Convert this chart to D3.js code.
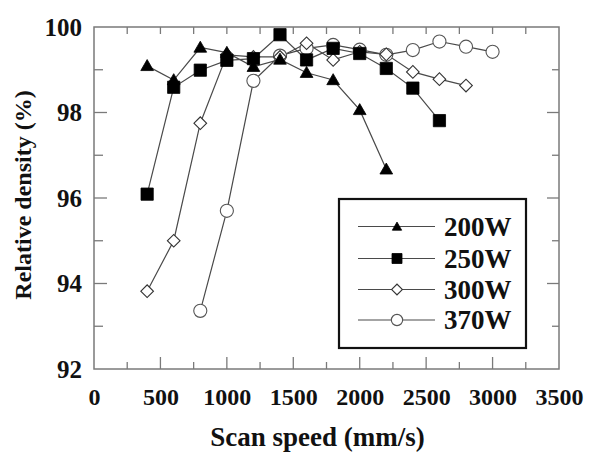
<!DOCTYPE html>
<html>
<head>
<meta charset="utf-8">
<script src="https://cdn.jsdelivr.net/npm/d3@7/dist/d3.min.js"></script>
<style>
  html, body { margin: 0; padding: 0; background: #fff; }
</style>
</head>
<body>
<svg id="chart" width="589" height="452"></svg>
<script>
// ---- data ----
const seriesNames = ["200W", "250W", "300W", "370W"];
const speeds200 = [400, 600, 800, 1000, 1200, 1400, 1600, 1800, 2000, 2200];
const density200 = [99.09, 98.76, 99.52, 99.40, 99.07, 99.24, 98.93, 98.76, 98.06, 96.67];
const speeds250 = [400, 600, 800, 1000, 1200, 1400, 1600, 1800, 2000, 2200, 2400, 2600];
const density250 = [96.09, 98.59, 98.99, 99.22, 99.26, 99.82, 99.23, 99.50, 99.38, 99.03, 98.57, 97.81];
const speeds300 = [400, 600, 800, 1000, 1200, 1400, 1600, 1800, 2000, 2200, 2400, 2600, 2800];
const density300 = [93.82, 95.00, 97.75, 99.35, 99.30, 99.30, 99.62, 99.23, 99.42, 99.36, 98.95, 98.78, 98.63];
const speeds370 = [800, 1000, 1200, 1400, 1600, 1800, 2000, 2200, 2400, 2600, 2800, 3000];
const density370 = [93.36, 95.70, 98.74, 99.33, 99.50, 99.58, 99.47, 99.35, 99.46, 99.66, 99.54, 99.42];
const xTicks = [0, 500, 1000, 1500, 2000, 2500, 3000, 3500];
const yTicks = [92, 94, 96, 98, 100];

// ---- layout ----
const FONT = "'Liberation Serif', 'Times New Roman', Tinos, Times, 'DejaVu Serif', serif";
const svg = d3.select("#chart");
const L = 94, R = 559, T = 27, B = 369;
const x = d3.scaleLinear().domain([0, 3500]).range([L, R]);
const y = d3.scaleLinear().domain([92, 100]).range([B, T]);

const series = [
  { name: seriesNames[0], xs: speeds200, ys: density200, type: "triangle" },
  { name: seriesNames[1], xs: speeds250, ys: density250, type: "square" },
  { name: seriesNames[2], xs: speeds300, ys: density300, type: "diamond" },
  { name: seriesNames[3], xs: speeds370, ys: density370, type: "circle" }
];

function markerPath(type, big) {
  if (type === "triangle") return d3.symbol(d3.symbolTriangle, big ? 70 : 38)();
  if (type === "square") return d3.symbol(d3.symbolSquare, big ? 150 : 100)();
  if (type === "diamond") return d3.symbol(d3.symbolSquare, big ? 80 : 58)();
  return d3.symbol(d3.symbolCircle, big ? 135 : 100)();
}
function markerStyle(sel, type) {
  if (type === "triangle" || type === "square") {
    sel.attr("fill", "#000").attr("stroke", "#000").attr("stroke-width", 0.8);
  } else if (type === "diamond") {
    sel.attr("fill", "#fff").attr("stroke", "#333").attr("stroke-width", 1.1);
  } else {
    sel.attr("fill", "#fff").attr("stroke", "#555").attr("stroke-width", 1.1);
  }
}
function markerTransform(type, px, py) {
  if (type === "diamond") return `translate(${px},${py}) rotate(45)`;
  if (type === "triangle") return `translate(${px},${py + 1})`;
  return `translate(${px},${py})`;
}
function txt(sel, size) {
  return sel.attr("font-family", FONT).style("font-family", FONT)
    .attr("font-weight", "bold").style("font-weight", "bold")
    .attr("font-size", size).style("font-size", size + "px").attr("fill", "#111");
}

// ---- frame and ticks ----
const frameColor = "#7a7a7a";
svg.append("rect").attr("x", L).attr("y", T).attr("width", R - L).attr("height", B - T)
  .attr("fill", "none").attr("stroke", frameColor).attr("stroke-width", 1.5);

const tickG = svg.append("g").attr("stroke", frameColor).attr("stroke-width", 1.3);
const xMinor = d3.range(250, 3500, 250);
xMinor.forEach(v => {
  const major = v % 500 === 0;
  tickG.append("line").attr("x1", x(v)).attr("x2", x(v)).attr("y1", B).attr("y2", B - (major ? 12 : 7));
  tickG.append("line").attr("x1", x(v)).attr("x2", x(v)).attr("y1", T).attr("y2", T + 7);
});
const yMinor = d3.range(93, 100, 1);
yMinor.forEach(v => {
  const major = v % 2 === 0;
  tickG.append("line").attr("x1", L).attr("x2", L + (major ? 13 : 9)).attr("y1", y(v)).attr("y2", y(v));
  tickG.append("line").attr("x1", R).attr("x2", R - (major ? 12 : 7)).attr("y1", y(v)).attr("y2", y(v));
});

// tick labels via axes (ticks hidden)
const xAxis = d3.axisBottom(x).tickValues(xTicks).tickSize(0).tickPadding(0).tickFormat(d3.format("d"));
const gx = svg.append("g").attr("transform", `translate(0,${B})`).call(xAxis);
gx.attr("font-family", null).attr("font-size", null);
gx.select(".domain").remove();
txt(gx.selectAll("text").attr("dy", null).attr("y", 36), 24);

const yAxis = d3.axisLeft(y).tickValues(yTicks).tickSize(0).tickPadding(0).tickFormat(d3.format("d"));
const gy = svg.append("g").attr("transform", `translate(${L},0)`).call(yAxis);
gy.attr("font-family", null).attr("font-size", null);
gy.select(".domain").remove();
txt(gy.selectAll("text").attr("x", -12).attr("dy", "0.33em"), 25);

// axis titles
txt(svg.append("text").attr("x", (L + R) / 2 - 9).attr("y", 446).attr("text-anchor", "middle"), 27)
  .text("Scan speed (mm/s)");
txt(svg.append("text").attr("transform", `translate(31,${(T + B) / 2 - 3}) rotate(-90)`)
  .attr("text-anchor", "middle"), 24).text("Relative density (%)");

// ---- lines ----
const line = d3.line().x(d => x(d[0])).y(d => y(d[1]));
series.forEach(s => {
  const pts = s.xs.map((v, i) => [v, s.ys[i]]);
  svg.append("path").attr("d", line(pts)).attr("fill", "none")
    .attr("stroke", "#4a4a4a").attr("stroke-width", 1.2);
});

// ---- markers (open ones first) ----
[series[3], series[2], series[1], series[0]].forEach(s => {
  const g = svg.append("g");
  s.xs.forEach((v, i) => {
    const p = g.append("path").attr("d", markerPath(s.type, true))
      .attr("transform", markerTransform(s.type, x(v), y(s.ys[i])));
    markerStyle(p, s.type);
  });
});

// ---- legend ----
const lg = svg.append("g");
lg.append("rect").attr("x", 339).attr("y", 199).attr("width", 187).attr("height", 149)
  .attr("fill", "#fff").attr("stroke", "#111").attr("stroke-width", 2.2);
const rowY = [226.5, 258.5, 289.5, 320];
series.forEach((s, i) => {
  const ry = rowY[i];
  lg.append("line").attr("x1", 358).attr("x2", 435).attr("y1", ry).attr("y2", ry)
    .attr("stroke", "#4a4a4a").attr("stroke-width", 1.2);
  const p = lg.append("path").attr("d", markerPath(s.type, false))
    .attr("transform", markerTransform(s.type, 397, ry));
  markerStyle(p, s.type);
  txt(lg.append("text").attr("x", 444).attr("y", ry).attr("dy", "0.35em"), 27).text(s.name);
});
</script>
</body>
</html>
